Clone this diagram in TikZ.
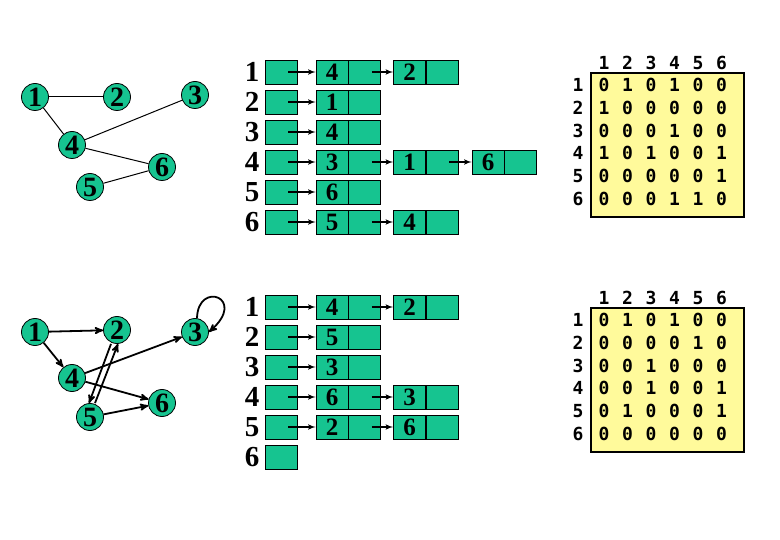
\documentclass[tikz,border=0pt]{standalone}
\usepackage{fontspec}
\setmainfont{Liberation Serif}
\newfontfamily\matfont{DejaVu Sans Mono}
\usetikzlibrary{arrows,positioning}
\definecolor{nodegreen}{RGB}{22,196,144}
\definecolor{matyellow}{RGB}{255,250,155}

\begin{document}
\begin{tikzpicture}
[x=1pt,y=-1pt,>=stealth',
  vertex/.style={circle,fill=nodegreen,draw,line width=0.8pt,inner sep=0pt,minimum size=27pt,font=\fontsize{28}{28}\selectfont\bfseries},
  cell/.style={rectangle,fill=nodegreen,draw,line width=0.8pt,inner sep=0pt,minimum width=32pt,minimum height=24pt,font=\fontsize{25}{25}\selectfont\bfseries},
  rowlab/.style={font=\fontsize{29}{29}\selectfont\bfseries},
  ptr/.style={->,>=latex',line width=1.6pt,shorten <=7pt},
  arc/.style={->,line width=1.8pt},
  matbox/.style={rectangle,fill=matyellow,draw,line width=2.6pt,minimum width=153pt,minimum height=144pt},
  entry/.style={inner sep=0pt,font=\matfont\fontsize{18}{18}\selectfont\bfseries}]
  \useasboundingbox (0,0) rectangle (780,540);

  % undirected graph
  \node[vertex] (v1) at (35,97) {1};
  \node[vertex] (v2) at (117,97) {2};
  \node[vertex] (v3) at (195,95) {3};
  \node[vertex] (v4) at (72,145) {4};
  \node[vertex] (v5) at (90,187) {5};
  \node[vertex] (v6) at (162,167) {6};

  \foreach \from/\to in {v1/v2,v1/v4,v4/v3,v4/v6,v6/v5}
    \draw[line width=1pt] (\from) -- (\to);

  % directed graph
  \node[vertex] (w1) at (35,332) {1};
  \node[vertex] (w2) at (117,330) {2};
  \node[vertex] (w3) at (195,332) {3};
  \node[vertex] (w4) at (72,378) {4};
  \node[vertex] (w5) at (90,417) {5};
  \node[vertex] (w6) at (162,403) {6};

  \foreach \from/\to in {w1/w2,w1/w4,w4/w3,w4/w6,w5/w6}
    \draw[arc] (\from) -- (\to);
  \draw[arc] ([xshift=-6]w2.south) -- ([xshift=-1]w5.north);
  \draw[arc] ([xshift=5]w5.north) -- ([xshift=1]w2.south);
  \draw[arc] ([xshift=2]w3.north) .. controls (198,280) and (248,298) .. (w3.east);

  % adjacency lists, undirected
  \foreach \r/\y in {1/72,2/102,3/132,4/162,5/192,6/222} {
    \node[rowlab] (tr\r) at (252,\y) {\r};
    \node[cell] (th\r) at (281,\y) {};
  }
  \foreach \n/\x/\y/\v in {t11/332/72/4, t12/409.5/72/2,
      t21/332/102/1, t31/332/132/4,
      t41/332/162/3, t42/409.5/162/1, t43/488/162/6,
      t51/332/192/6, t61/332/222/5, t62/409.5/222/4} {
    \node[cell] (\n-a) at (\x,\y) {\v};
    \node[cell,right=0pt of \n-a] (\n-p) {};
  }
  \foreach \from/\to in {th1/t11,t11-p/t12,th2/t21,th3/t31,
      th4/t41,t41-p/t42,t42-p/t43,th5/t51,th6/t61,t61-p/t62}
    \draw[ptr] (\from.center) -- (\to-a.west);

  % adjacency lists, directed
  \foreach \r/\y in {1/307,2/337,3/367,4/397,5/427,6/457} {
    \node[rowlab] (br\r) at (252,\y) {\r};
    \node[cell] (bh\r) at (281,\y) {};
  }
  \foreach \n/\x/\y/\v in {b11/332/307/4, b12/409.5/307/2,
      b21/332/337/5, b31/332/367/3,
      b41/332/397/6, b42/409.5/397/3,
      b51/332/427/2, b52/409.5/427/6} {
    \node[cell] (\n-a) at (\x,\y) {\v};
    \node[cell,right=0pt of \n-a] (\n-p) {};
  }
  \foreach \from/\to in {bh1/b11,b11-p/b12,bh2/b21,bh3/b31,
      bh4/b41,b41-p/b42,bh5/b51,b51-p/b52}
    \draw[ptr] (\from.center) -- (\to-a.west);

  % adjacency matrices
  \node[matbox] (tm) at (667.5,145) {};
  \node[matbox] (bm) at (667.5,380) {};
  \foreach \j in {1,...,6} {
    \node[entry] (tc\j) at (604+23.5*\j-23.5,63) {\j};
    \node[entry] (bc\j) at (604+23.5*\j-23.5,298) {\j};
  }
  \foreach \i/\row in {1/{0,1,0,1,0,0},2/{1,0,0,0,0,0},3/{0,0,0,1,0,0},
      4/{1,0,1,0,0,1},5/{0,0,0,0,0,1},6/{0,0,0,1,1,0}} {
    \node[entry] (tk\i) at (578,85+22.8*\i-22.8) {\i};
    \foreach \v [count=\j] in \row
      \node[entry] (t\i\j) at (604+23.5*\j-23.5,85+22.8*\i-22.8) {\v};
  }
  \foreach \i/\row in {1/{0,1,0,1,0,0},2/{0,0,0,0,1,0},3/{0,0,1,0,0,0},
      4/{0,0,1,0,0,1},5/{0,1,0,0,0,1},6/{0,0,0,0,0,0}} {
    \node[entry] (bk\i) at (578,320+22.8*\i-22.8) {\i};
    \foreach \v [count=\j] in \row
      \node[entry] (b\i\j) at (604+23.5*\j-23.5,320+22.8*\i-22.8) {\v};
  }

\end{tikzpicture}
\end{document}
